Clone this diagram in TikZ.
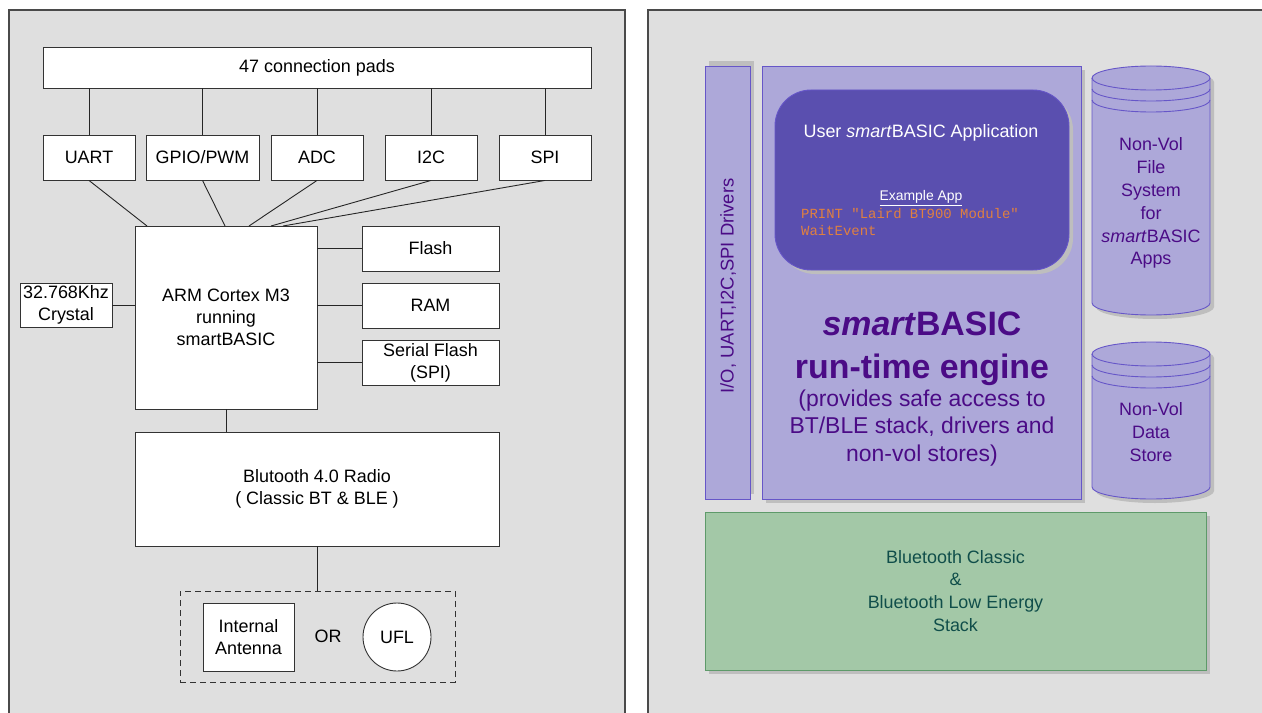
\documentclass[tikz,border=0pt]{standalone}
\usepackage{fontspec}
\setmainfont{Liberation Sans}
\setmonofont{Liberation Mono}
\usetikzlibrary{fit,shadows}
\definecolor{panelbg}{HTML}{DFDFDF}
\definecolor{panelln}{HTML}{4A4A4A}
\definecolor{lav}{HTML}{ADA8D9}
\definecolor{lavln}{HTML}{6656C8}
\definecolor{appbg}{HTML}{5A4FAF}
\definecolor{purp}{HTML}{4B0B86}
\definecolor{codeor}{HTML}{E08040}
\definecolor{grn}{HTML}{A3C8A7}
\definecolor{grnln}{HTML}{5E9A6A}
\definecolor{grntx}{HTML}{104E4A}
\definecolor{shd}{HTML}{BEBEBE}
\newcommand\fA{\fontsize{18}{22}\selectfont}
\newcommand\fB{\fontsize{18}{23}\selectfont}
\newcommand\fS{\fontsize{14}{17}\selectfont}
\newcommand\fL{\fontsize{34}{43}\selectfont}
\newcommand\fM{\fontsize{23}{27.5}\selectfont}
\begin{document}
\begin{tikzpicture}[x=1bp,y=-1bp,
  panel/.style={fill=panelbg,draw=panelln,line width=1.3bp},
  box/.style={draw=black!80,fill=white,line width=0.9bp,inner sep=0pt,align=center,font=\fA},
  wire/.style={draw=black!85,line width=0.9bp},
  lbl/.style={inner sep=0pt,align=center},
  sbox/.style={fill=lav,draw=lavln,line width=0.9bp,inner sep=0pt},
  shdw/.style={drop shadow={shadow xshift=4bp,shadow yshift=-4bp,fill=shd,opacity=1}},
  cyl/.style={fill=lav,draw=lavln,line width=0.9bp}]
\useasboundingbox (0,0) rectangle (1262,713);
\fill[white] (0,0) rectangle (1262,713);
% ---------- left panel ----------
\draw[panel] (9,10) rectangle (625,725);
\node[box,minimum width=548bp,minimum height=41bp] (pads) at (317,67.5) {47 connection pads};
\node[box,minimum width=92bp,minimum height=45bp] (uart) at (89,157.5) {UART};
\node[box,minimum width=113bp,minimum height=45bp] (gpio) at (202.5,157.5) {GPIO/PWM};
\node[box,minimum width=92bp,minimum height=45bp] (adc) at (317,157.5) {ADC};
\node[box,minimum width=92bp,minimum height=45bp] (i2c) at (431,157.5) {I2C};
\node[box,minimum width=92bp,minimum height=45bp] (spi) at (545,157.5) {SPI};
\foreach \n in {uart,gpio,adc,i2c,spi} \draw[wire] (\n.north) -- (\n.north |- pads.south);
\node[box,minimum width=182bp,minimum height=183bp] (arm) at (226,317.5) {ARM Cortex M3\\running\\smartBASIC};
\coordinate (a1) at (147,226);
\coordinate (a2) at (225,226);
\coordinate (a3) at (249,226);
\coordinate (a4) at (271,226);
\coordinate (a5) at (283,226);
\draw[wire] (uart.south) -- (a1);
\draw[wire] (gpio.south) -- (a2);
\draw[wire] (adc.south) -- (a3);
\draw[wire] (i2c.south) -- (a4);
\draw[wire] (spi.south) -- (a5);
\node[box,minimum width=92bp,minimum height=44bp] (xtal) at (66,305) {32.768Khz\\Crystal};
\draw[wire] (xtal.east) -- (xtal.east -| arm.west);
\node[box,minimum width=137bp,minimum height=45bp] (flash) at (430.5,248.5) {Flash};
\node[box,minimum width=137bp,minimum height=45bp] (ram) at (430.5,305.5) {RAM};
\node[box,minimum width=137bp,minimum height=45bp] (sflash) at (430.5,362.5) {Serial Flash\\(SPI)};
\foreach \n in {flash,ram,sflash} \draw[wire] (\n.west) -- (\n.west -| arm.east);
\node[box,minimum width=364bp,minimum height=114bp] (radio) at (317,489) {Blutooth 4.0 Radio\\( Classic BT \& BLE )};
\draw[wire] (arm.south) -- (arm.south |- radio.north);
\node[draw=black!80,line width=0.9bp,dash pattern=on 6bp off 4bp,inner sep=0pt,fit={(180,591) (455,682)}] (antgrp) {};
\draw[wire] (radio.south) -- (radio.south |- antgrp.north);
\node[box,minimum width=91bp,minimum height=68bp] (ant) at (248.5,637) {Internal\\Antenna};
\node[lbl,font=\fA] (or) at (328,636) {OR};
\node[box,circle,minimum size=68bp] (ufl) at (397,637) {UFL};
% ---------- right panel ----------
\draw[panel] (648,10) rectangle (1275,725);
\node[sbox,fit={(705,66) (750,499)},drop shadow={shadow xshift=4bp,shadow yshift=5bp,fill=shd,opacity=1}] (drv) {};
\node[lbl,rotate=90,text=purp,font=\fontsize{18.5}{22}\selectfont] (drvtxt) at (728,286) {I/O, UART,I2C,SPI Drivers};
\node[sbox,shdw,fit={(762,66) (1081,499)}] (eng) {};
\node[fill=appbg,draw=lavln,line width=0.9bp,inner sep=0pt,rounded corners=36bp,shdw,fit={(775,90) (1069,270)}] (app) {};
\node[lbl,text=white,font=\fA] (apptitle) at (921,133) {User \textit{smart}BASIC Application};
\node[lbl,text=white,font=\fS] (ex) at (921,198) {\underline{Example App}};
\node[lbl,anchor=west,text=codeor,font=\fS\ttfamily] (code1) at (801,214) {PRINT "Laird BT900 Module"};
\node[lbl,anchor=west,text=codeor,font=\fS\ttfamily] (code2) at (801,231) {WaitEvent};
\node[lbl,text=purp,font=\fL\bfseries] (engt) at (922,349) {\textit{smart}BASIC\\run-time engine};
\node[lbl,text=purp,font=\fM] (engs) at (922,428) {(provides safe access to\\BT/BLE stack, drivers and\\non-vol stores)};
% cylinder 1
\begin{scope}[shift={(4,4)}]
\fill[shd] (1092,78) -- (1092,303) arc[start angle=180,end angle=360,x radius=59bp,y radius=12bp] -- (1210,78) arc[start angle=0,end angle=180,x radius=59bp,y radius=12bp] -- cycle;
\end{scope}
\path[cyl] (1092,78) -- (1092,303) arc[start angle=180,end angle=360,x radius=59bp,y radius=12bp] -- (1210,78) arc[start angle=0,end angle=180,x radius=59bp,y radius=12bp] -- cycle;
\draw[lavln,line width=0.9bp] (1092,78) arc[start angle=180,end angle=360,x radius=59bp,y radius=12bp];
\draw[lavln,line width=0.9bp] (1092,89) arc[start angle=180,end angle=360,x radius=59bp,y radius=12bp];
\draw[lavln,line width=0.9bp] (1092,100) arc[start angle=180,end angle=360,x radius=59bp,y radius=12bp];
\node[lbl,text=purp,font=\fB] (nvfs) at (1151,203) {Non-Vol\\File\\System\\for\\\textit{smart}BASIC\\Apps};
% cylinder 2
\begin{scope}[shift={(4,4)}]
\fill[shd] (1092,354) -- (1092,487) arc[start angle=180,end angle=360,x radius=59bp,y radius=12bp] -- (1210,354) arc[start angle=0,end angle=180,x radius=59bp,y radius=12bp] -- cycle;
\end{scope}
\path[cyl] (1092,354) -- (1092,487) arc[start angle=180,end angle=360,x radius=59bp,y radius=12bp] -- (1210,354) arc[start angle=0,end angle=180,x radius=59bp,y radius=12bp] -- cycle;
\draw[lavln,line width=0.9bp] (1092,354) arc[start angle=180,end angle=360,x radius=59bp,y radius=12bp];
\draw[lavln,line width=0.9bp] (1092,365) arc[start angle=180,end angle=360,x radius=59bp,y radius=12bp];
\draw[lavln,line width=0.9bp] (1092,376) arc[start angle=180,end angle=360,x radius=59bp,y radius=12bp];
\node[lbl,text=purp,font=\fB] (nvds) at (1151,432) {Non-Vol\\Data\\Store};
% stack
\node[fill=grn,draw=grnln,line width=0.9bp,inner sep=0pt,shdw,fit={(705,512) (1206,670)}] (stack) {};
\node[lbl,text=grntx,font=\fB] (stacktxt) at (stack.center) {Bluetooth Classic\\\&\\Bluetooth Low Energy\\Stack};
\end{tikzpicture}
\end{document}
